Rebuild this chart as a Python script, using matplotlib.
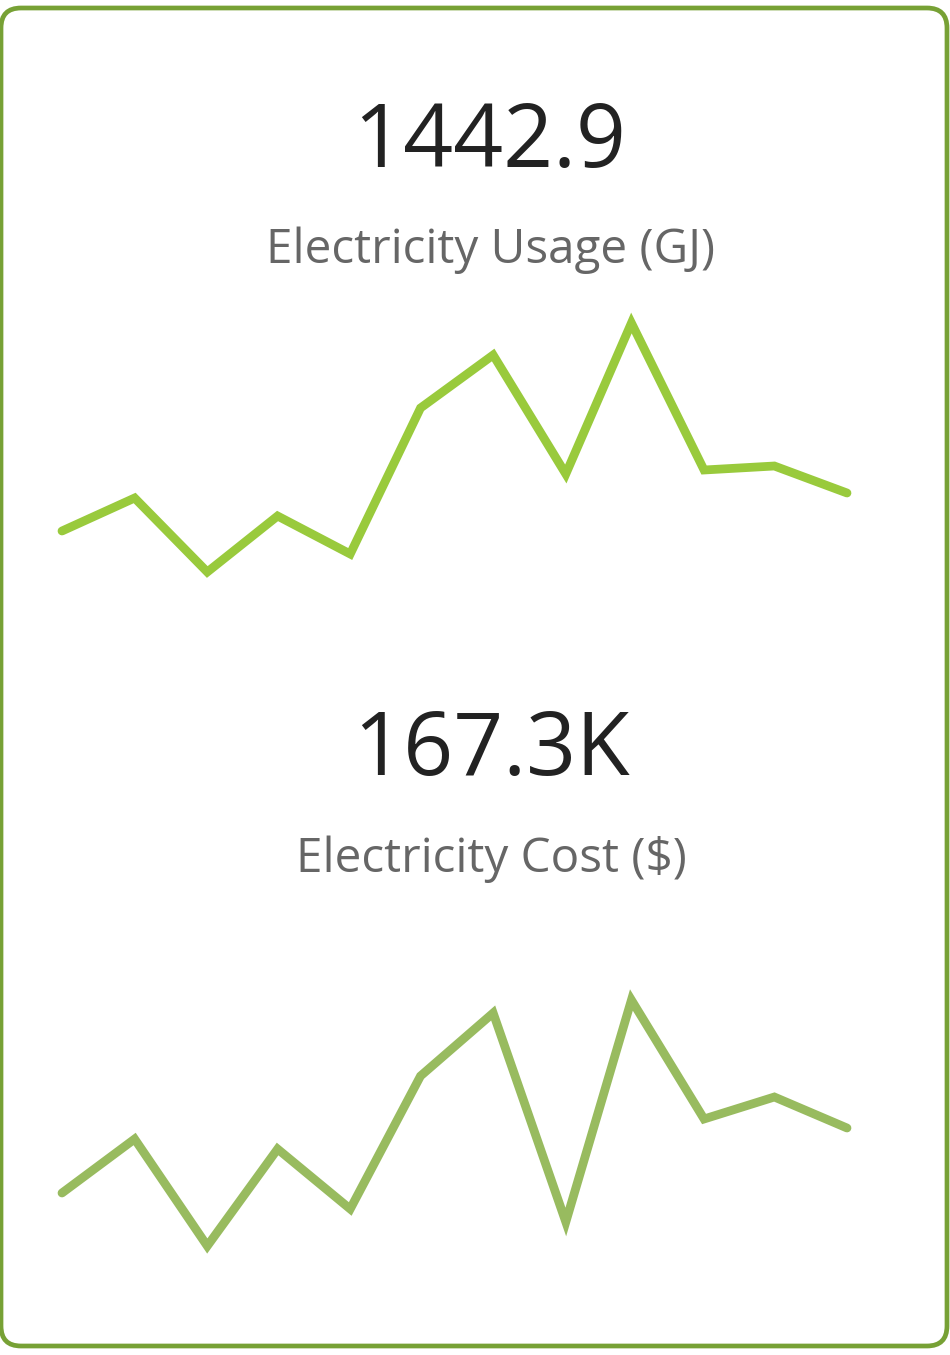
import matplotlib
matplotlib.use("Agg")
import matplotlib.pyplot as plt
import pandas as pd
from matplotlib.patches import FancyBboxPatch

plt.rcParams['font.family'] = ['Open Sans', 'DejaVu Sans']

months = pd.date_range("2018-07-01", periods=12, freq="MS")
usage = [69, 102, 28, 84, 46, 192, 245, 126, 277, 130, 134, 107]
cost = [107, 161, 54, 151, 91, 224, 287, 78, 300, 181, 203, 172]

usage_total = "1442.9"
usage_label = "Electricity Usage (GJ)"
cost_total = "167.3K"
cost_label = "Electricity Cost ($)"

W, H = 950, 1355
fig = plt.figure(figsize=(W / 100, H / 100), dpi=100)
fig.patch.set_facecolor("white")

# background axes in pixel units, for the card frame and the texts
bg = fig.add_axes([0, 0, 1, 1])
bg.set_xlim(0, W)
bg.set_ylim(H, 0)
bg.axis("off")
card = FancyBboxPatch((1, 8), 946, 1338, boxstyle="round,pad=0,rounding_size=20",
                      fc="none", ec="#77a135", lw=3.4)
bg.add_patch(card)

bg.text(490, 167, usage_total, ha="center", va="baseline", fontsize=63, color="#222222")
bg.text(491, 263, usage_label, ha="center", va="baseline", fontsize=34.3, color="#666666")
bg.text(491, 775, cost_total, ha="center", va="baseline", fontsize=63, color="#222222")
bg.text(491, 872, cost_label, ha="center", va="baseline", fontsize=34.3, color="#666666")


def spark(bottom_px, height_px, ymax, vals, color):
    ax = fig.add_axes([62 / W, (H - bottom_px) / H, 785 / W, height_px / H])
    ax.plot(months, vals, color=color, lw=6.3, solid_capstyle="round",
            solid_joinstyle="miter", clip_on=False)
    ax.set_xlim(months[0], months[-1])
    ax.set_ylim(0, ymax)
    ax.axis("off")
    return ax


spark(600, 300, 300, usage, "#99ca3c")
spark(1300, 350, 350, cost, "#98bb5f")

fig.savefig("out.png", dpi=100, facecolor="white")
